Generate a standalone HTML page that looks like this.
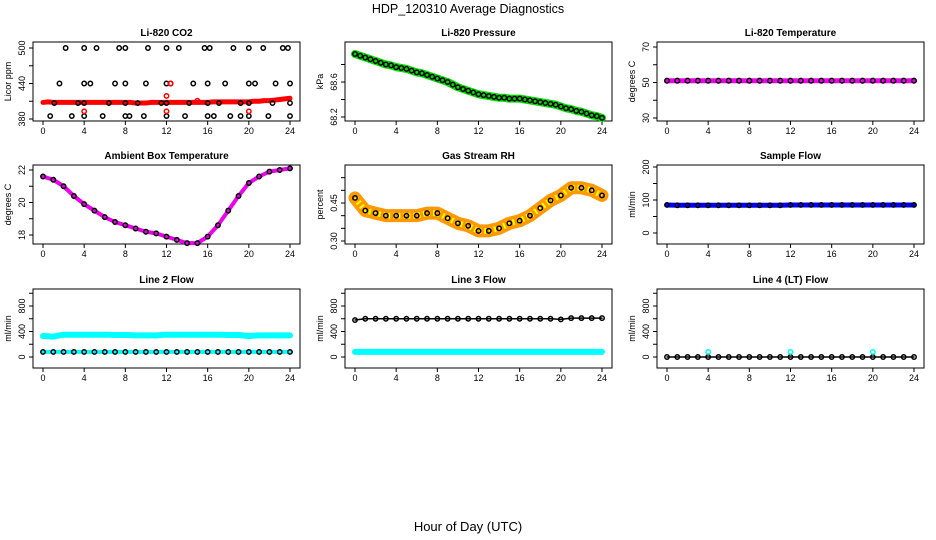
<!DOCTYPE html>
<html><head><meta charset="utf-8"><style>
body{margin:0;background:#fff;}
svg{display:block;font-family:"Liberation Sans",Arial,sans-serif;}
</style></head><body>
<svg id="c" width="936" height="540" viewBox="0 0 936 540">
<text x="468" y="13" text-anchor="middle" font-size="12.5">HDP_120310  Average Diagnostics</text>
<text x="468" y="531" text-anchor="middle" font-size="13">Hour of Day (UTC)</text>
</svg>
<script>
const hours = [0,0.5,1,1.5,2,2.5,3,3.5,4,4.5,5,5.5,6,6.5,7,7.5,8,8.5,9,9.5,10,10.5,11,11.5,12,12.5,13,13.5,14,14.5,15,15.5,16,16.5,17,17.5,18,18.5,19,19.5,20,20.5,21,21.5,22,22.5,23,23.5,24];
const hourly = [0,1,2,3,4,5,6,7,8,9,10,11,12,13,14,15,16,17,18,19,20,21,22,23,24];
const xTicks = [0,4,8,12,16,20,24];
const co2Red = [408,409,408,408,408,408,408,408,408,408,408,408,408,408,408,408,408,408,407,407,407,408,408,408,408,408,408,408,408,408,408,408,408,409,409,409,409,409,409,409,409,410,410,411,411,412,413,414,415];
const co2BlackH = [2.2,4,5.2,7.4,8,10.2,12,13.2,15.7,16.2,18.5,20,21.4,23.3,23.8,1.6,4,4.6,7,8,10,12,12.4,14.6,16,17.7,20,20.6,22.6,24,1.1,3.4,4,6.4,8,9.2,11.5,12,14.2,16,17.1,19.2,20,22.3,24,0.7,2.8,4,5.8,8,8.4,9.8,12,13.8,16,16.6,18.2,19.2,20,21.9,24];
const co2BlackV = [500,500,500,500,500,500,500,500,500,500,500,500,500,500,500,440,440,440,440,440,440,440,440,440,440,440,440,440,440,440,407,407,407,407,407,407,407,407,407,407,407,407,407,407,407,385,385,385,385,385,385,385,385,385,385,385,385,385,385,385,385];
const pressure = [68.92,68.9,68.88,68.86,68.84,68.82,68.8,68.79,68.77,68.76,68.75,68.73,68.71,68.7,68.68,68.66,68.64,68.62,68.6,68.57,68.54,68.52,68.5,68.48,68.46,68.45,68.44,68.43,68.42,68.42,68.41,68.41,68.41,68.4,68.39,68.38,68.37,68.36,68.35,68.34,68.32,68.3,68.29,68.27,68.26,68.24,68.22,68.21,68.19];
const liTemp = [51,51,51,51,51,51,51,51,51,51,51,51,51,51,51,51,51,51,51,51,51,51,51,51,51];
const ambient = [21.6,21.4,21.0,20.4,19.9,19.5,19.1,18.8,18.6,18.4,18.2,18.1,17.9,17.7,17.5,17.5,17.9,18.6,19.5,20.4,21.2,21.6,21.9,22.0,22.1];
const rh = [0.47,0.42,0.41,0.40,0.40,0.40,0.40,0.41,0.41,0.39,0.37,0.36,0.34,0.34,0.35,0.37,0.38,0.40,0.43,0.46,0.48,0.51,0.51,0.50,0.48];
const sampleFlow = [85,84,84,84,84,84,84,84,84,84,84,84,85,85,85,85,85,85,85,85,85,85,85,85,85];
const line2High = [330,320,350,350,350,350,350,345,345,340,340,340,350,350,350,350,350,350,345,345,330,340,340,340,340];
const line2Low = [80,80,80,80,80,80,80,80,80,80,80,80,80,80,80,80,80,80,80,80,80,80,80,80,80];
const line3High = [580,600,600,600,600,600,600,600,600,600,600,600,600,600,600,600,600,600,600,600,590,610,610,610,610];
const line3Low = [80,80,80,80,80,80,80,80,80,80,80,80,80,80,80,80,80,80,80,80,80,80,80,80,80];
const line4 = [0,0,0,0,0,0,0,0,0,0,0,0,0,0,0,0,0,0,0,0,0,0,0,0,0];
const line4SpikeH = [4,12,20];
const line4SpikeV = [80,80,80];

const NS='http://www.w3.org/2000/svg';
const svg=document.getElementById('c');
function el(tag,attrs,parent){const e=document.createElementNS(NS,tag);for(const k in attrs)e.setAttribute(k,attrs[k]);(parent||svg).appendChild(e);return e;}

function panel(o){
  const g=el('g',{});
  
  
  const L=o.left,R=L+267,T=o.top,B=T+79;
  const x0=L+10,x1=R-10;
  const xs=h=>x0+(h/24)*(x1-x0);
  const ys=v=>o.yPix0+(v-o.yv0)*(o.yPix1-o.yPix0)/(o.yv1-o.yv0);
  const t=el('text',{x:(L+R)/2,y:T-6,'text-anchor':'middle','font-size':10,'font-weight':'bold'},g);t.textContent=o.title;
  
  
  const box=el('rect',{x:L,y:T,width:R-L,height:B-T,fill:'none',stroke:'#000','stroke-width':1},g);
  
  
  xTicks.forEach(h=>{
    el('line',{x1:xs(h),x2:xs(h),y1:B,y2:B+4,stroke:'#000'},g);
    const tl=el('text',{x:xs(h),y:B+13,'text-anchor':'middle','font-size':9},g);tl.textContent=h;
    
    
  });
  o.yTicks.forEach(v=>{
    el('line',{x1:L,x2:L-4,y1:ys(v),y2:ys(v),stroke:'#000'},g);
  });
  o.yLabels.forEach(v=>{
    const yl=el('text',{x:L-8,y:ys(+v),'text-anchor':'middle','font-size':9,transform:`rotate(-90 ${L-8} ${ys(+v)})`},g);yl.textContent=v;
    
    
  });
  const yt=el('text',{x:L-22,y:(T+B)/2,'text-anchor':'middle','font-size':9,transform:`rotate(-90 ${L-22} ${(T+B)/2})`},g);yt.textContent=o.ylab;
  
  
  (o.series||[]).forEach(s=>{
    if(s.band){
      const pts=s.h.map((h,i)=>xs(h)+','+ys(s.v[i])).join(' ');
      const pl=el('polyline',{points:pts,fill:'none',stroke:s.band,'stroke-width':s.bw||6,'stroke-linejoin':'round','stroke-linecap':'round'},g);
      
      
      if(s.inner){
        const pi=el('polyline',{points:pts,fill:'none',stroke:s.inner,'stroke-width':(s.bw||6)*0.45,'stroke-dasharray':'2 3','stroke-linejoin':'round'},g);
        
        
      }
    }
    if(s.pts){
      s.h.forEach((h,i)=>{
        const c=el('circle',{cx:xs(h),cy:ys(s.v[i]),r:s.r||2.2,fill:s.fill||'none',stroke:s.pts,'stroke-width':1.5},g);
        
        
      });
    }
  });
}

panel({name:'co2-panel',title:'Li-820 CO2',left:33,top:42,yv0:380,yv1:500,yPix0:119,yPix1:48,yTicks:[380,410,440,470,500],yLabels:[380,440,500],ylab:'Licor ppm',
  series:[{name:'co2-red',h:hours,v:co2Red,band:'#f00',bw:5},{name:'co2-black',h:co2BlackH,v:co2BlackV,pts:'#000'},
  {name:'co2-red-outlier',h:[4,12,12,12.4,20,15],v:[393,393,419,440,393,411],pts:'#f00'}]});
panel({name:'pressure-panel',title:'Li-820 Pressure',left:345,top:42,yv0:68.2,yv1:68.6,yPix0:117,yPix1:82,yTicks:[68.2,68.4,68.6,68.8],yLabels:['68.2','68.6'],ylab:'kPa',
  series:[{name:'pressure',h:hours,v:pressure,band:'#0d0',bw:8,pts:'#000'}]});
panel({name:'li-temp-panel',title:'Li-820 Temperature',left:657,top:42,yv0:30,yv1:70,yPix0:118,yPix1:47,yTicks:[30,40,50,60,70],yLabels:[30,50,70],ylab:'degrees C',
  series:[{name:'li-temp',h:hourly,v:liTemp,band:'#e0e',bw:5,pts:'#000',r:2.3}]});
panel({name:'ambient-panel',title:'Ambient Box Temperature',left:33,top:165,yv0:18,yv1:22,yPix0:235,yPix1:170,yTicks:[18,19,20,21,22],yLabels:[18,20,22],ylab:'degrees C',
  series:[{name:'ambient',h:hourly,v:ambient,band:'#e0e',bw:4,pts:'#000'}]});
panel({name:'rh-panel',title:'Gas Stream RH',left:345,top:165,yv0:0.30,yv1:0.45,yPix0:241,yPix1:203,yTicks:[0.30,0.35,0.40,0.45,0.50,0.55],yLabels:['0.30','0.45'],ylab:'percent',
  series:[{name:'rh',h:hourly,v:rh,band:'#f90',bw:13,inner:'#ff0'},{name:'rh-black',h:hourly,v:rh,pts:'#000'}]});
panel({name:'sample-flow-panel',title:'Sample Flow',left:657,top:165,yv0:0,yv1:200,yPix0:233,yPix1:167,yTicks:[0,50,100,150,200],yLabels:[0,100,200],ylab:'ml/min',
  series:[{name:'sample-flow',h:hourly,v:sampleFlow,band:'#00f',bw:5,pts:'#000'}]});
const flowAxis={yv0:0,yv1:800,yPix0:357,yPix1:306,yTicks:[0,200,400,600,800,1000],yLabels:[0,400,800],ylab:'ml/min'};
panel(Object.assign({name:'line2-panel',title:'Line 2 Flow',left:33,top:289,
  series:[{name:'line2-high',h:hourly,v:line2High,band:'#0ff',bw:6},{name:'line2-low',h:hourly,v:line2Low,band:'#0ff',bw:4,pts:'#000'}]},flowAxis));
panel(Object.assign({name:'line3-panel',title:'Line 3 Flow',left:345,top:289,
  series:[{name:'line3-high',h:hourly,v:line3High,pts:'#000',band:'#000',bw:1.5},{name:'line3-low',h:hourly,v:line3Low,band:'#0ff',bw:6}]},flowAxis));
panel(Object.assign({name:'line4-panel',title:'Line 4 (LT) Flow',left:657,top:289,
  series:[{name:'line4',h:hourly,v:line4,band:'#000',bw:1.5,pts:'#000'},{name:'line4-spike',h:line4SpikeH,v:line4SpikeV,pts:'#0ff'}]},flowAxis));
</script>
</body></html>
